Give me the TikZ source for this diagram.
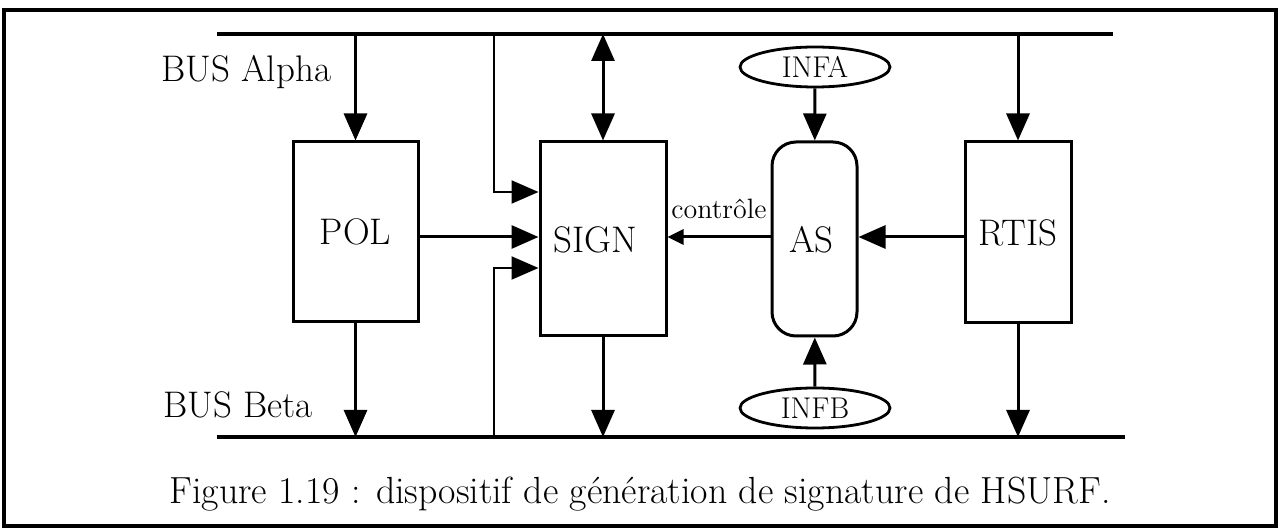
\documentclass[tikz,border=0pt]{standalone}
\usepackage{fontspec}
\usetikzlibrary{arrows.meta,shapes.geometric}
\begin{document}
\begin{tikzpicture}[x=0.5pt,y=-0.5pt,
  blk/.style={draw,line width=1.5pt,inner sep=0pt,font=\fontsize{18.5}{22}\selectfont},
  ell/.style={draw,ellipse,line width=1.4pt,inner sep=0pt,minimum width=75pt,minimum height=20pt,font=\fontsize{15}{18}\selectfont},
  bus/.style={line width=1.9pt},
  lbl/.style={font=\fontsize{18.5}{22}\selectfont,inner sep=0pt},
  tip/.style={Triangle[length=13.5pt,width=11.5pt]},
  arr/.style={line width=1.5pt,-{Triangle[length=13.5pt,width=11.5pt]}},
  thinarr/.style={line width=1.1pt,-{Triangle[length=13.5pt,width=11.5pt]}},
  smallarr/.style={line width=1.5pt,-{Triangle[length=8pt,width=7.5pt]}}]
\path[use as bounding box] (0,0) rectangle (1281,529);
\draw[line width=1.7pt] (4,10) rectangle (1276,526);

% buses
\coordinate (ta) at (217,34);
\coordinate (te) at (1113,34);
\coordinate (ba) at (217,437);
\coordinate (be) at (1125,437);
\coordinate (jt) at (494,34);
\coordinate (jb) at (494,437);
\draw[bus] (ta) -- (te);
\draw[bus] (ba) -- (be);
\node[lbl,anchor=base west] (alpha) at (161,82) {BUS Alpha};
\node[lbl,anchor=base west] (beta) at (163,418) {BUS Beta};

% blocks
\node[blk,minimum width=62.5pt,minimum height=90pt] (pol) at (355.5,232) {POL};
\node[blk,minimum width=63pt,minimum height=97pt,
      label={[lbl,anchor=base,xshift=-4pt,yshift=-0.5pt]center:SIGN}] (sign) at (603,239) {};
\node[blk,rounded corners=12pt,minimum width=42.5pt,minimum height=97pt,
      label={[lbl,anchor=base,xshift=-1.5pt,yshift=-0.5pt]center:AS}] (as) at (814.5,239) {};
\node[blk,minimum width=53pt,minimum height=90.5pt] (rtis) at (1018,232.5) {RTIS};
\node[ell] (infa) at (815,67) {INFA};
\node[ell] (infb) at (815,408) {INFB};

% connectors
\draw[arr] (pol.north |- ta) -- (pol.north);
\draw[arr] (pol.south) -- (pol.south |- ba);
\draw[arr] (pol.east |- 0,237) -- (sign.west |- 0,237);
\draw[thinarr] (jt) |- (sign.west |- 0,192);
\draw[thinarr] (jb) |- (sign.west |- 0,268);
\draw[line width=1.5pt,{Triangle[length=13.5pt,width=11.5pt]}-{Triangle[length=13.5pt,width=11.5pt]}] (sign.north |- ta) -- (sign.north);
\draw[arr] (sign.south) -- (sign.south |- ba);
\draw[arr] (infa) -- (as);
\draw[arr] (infb) -- (as);
\draw[smallarr] (as.west |- 0,237) -- node[anchor=base,yshift=9pt,inner sep=0pt,font=\fontsize{14}{17}\selectfont] {contrôle} (sign.east |- 0,237);
\draw[arr] (rtis.west |- 0,237) -- (as.east |- 0,237);
\draw[arr] (rtis.north |- ta) -- (rtis.north);
\draw[arr] (rtis.south) -- (rtis.south |- ba);

% caption
\node[anchor=base,inner sep=0pt,font=\fontsize{18.9}{22}\selectfont] (cap) at (640,503) {Figure 1.19 : dispositif de génération de signature de HSURF.};
\end{tikzpicture}
\end{document}
